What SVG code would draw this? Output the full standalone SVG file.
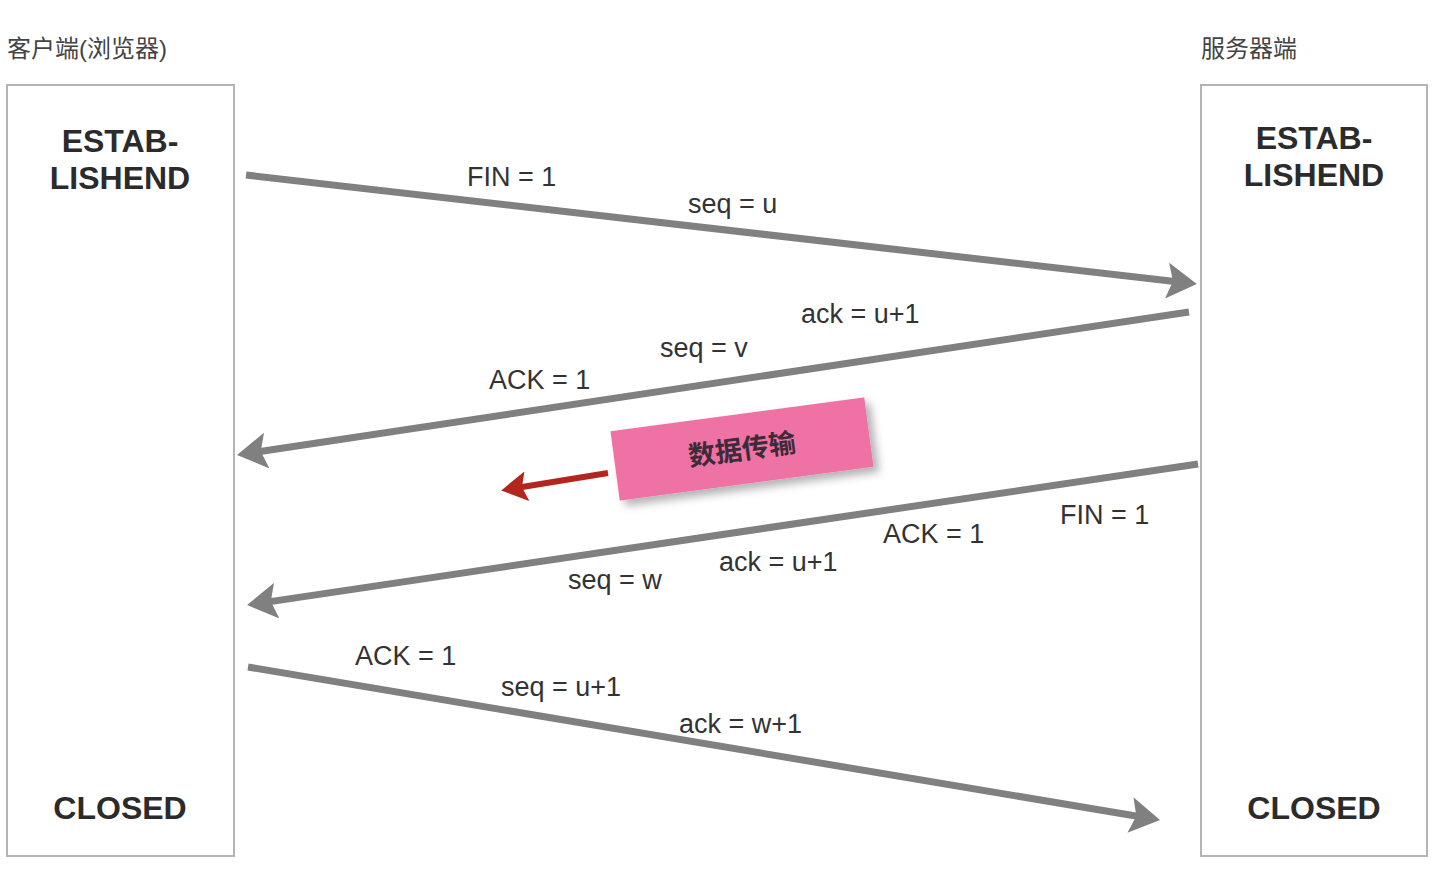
<svg xmlns="http://www.w3.org/2000/svg" width="1442" height="875" viewBox="0 0 1442 875">
<style>
.box{fill:#fff;stroke:#b4b4b4;stroke-width:2}
.state{font-family:"Liberation Sans",Arial,sans-serif;font-weight:bold;font-size:32px;fill:#2b2b2b;text-anchor:middle}
.title{font-family:"Liberation Sans","Noto Sans CJK SC",sans-serif;font-size:24px;fill:#444}
.lbl{font-family:"Liberation Sans",Arial,sans-serif;font-size:27px;fill:#333}
.conn{stroke:#808080;stroke-width:7;fill:none;marker-end:url(#ah)}
</style>
<defs>
<marker id="ah" viewBox="0 0 30 36" refX="10" refY="18" markerWidth="30" markerHeight="36" markerUnits="userSpaceOnUse" orient="auto">
<path d="M0,0 L30,18 L0,36 L6,18 z" fill="#808080"/>
</marker>
<marker id="rh" viewBox="0 0 26 30" refX="8" refY="15" markerWidth="26" markerHeight="30" markerUnits="userSpaceOnUse" orient="auto">
<path d="M0,0 L26,15 L0,30 L5,15 z" fill="#b3261e"/>
</marker>
<filter id="sh" x="-20%" y="-40%" width="140%" height="180%">
<feDropShadow dx="5" dy="6" stdDeviation="4" flood-color="#000" flood-opacity="0.3"/>
</filter>
</defs>
<rect width="1442" height="875" fill="#fff"/>
<text class="title" x="7" y="57">客户端(浏览器)</text>
<text class="title" x="1201" y="57">服务器端</text>
<g id="client">
<rect class="box" x="7" y="85" width="227" height="771"/>
<text class="state" x="120" y="152">ESTAB-</text>
<text class="state" x="120" y="189">LISHEND</text>
<text class="state" x="120" y="819">CLOSED</text>
</g>
<g id="server">
<rect class="box" x="1201" y="85" width="226" height="771"/>
<text class="state" x="1314" y="149">ESTAB-</text>
<text class="state" x="1314" y="186">LISHEND</text>
<text class="state" x="1314" y="819">CLOSED</text>
</g>
<g id="connectors">
<line class="conn" x1="246" y1="175" x2="1177" y2="281.7"/>
<line class="conn" x1="1189" y1="312" x2="256.8" y2="452"/>
<line class="conn" x1="1198" y1="464" x2="266.8" y2="602.1"/>
<line class="conn" x1="248" y1="667" x2="1140.3" y2="816.7"/>
<line x1="608" y1="473" x2="519" y2="487.5" stroke="#b3261e" stroke-width="6" marker-end="url(#rh)"/>
</g>
<g id="labels">
<text class="lbl" x="467" y="186">FIN = 1</text>
<text class="lbl" x="688" y="213">seq = u</text>
<text class="lbl" x="801" y="323">ack = u+1</text>
<text class="lbl" x="660" y="357">seq = v</text>
<text class="lbl" x="489" y="389">ACK = 1</text>
<text class="lbl" x="1060" y="524">FIN = 1</text>
<text class="lbl" x="883" y="543">ACK = 1</text>
<text class="lbl" x="719" y="571">ack = u+1</text>
<text class="lbl" x="568" y="589">seq = w</text>
<text class="lbl" x="355" y="665">ACK = 1</text>
<text class="lbl" x="501" y="696">seq = u+1</text>
<text class="lbl" x="679" y="733">ack = w+1</text>
</g>
<g id="data-transfer" transform="translate(742,449) rotate(-7.6)">
<rect x="-128" y="-35" width="256" height="70" fill="#ee72a4" filter="url(#sh)"/>
<text x="0" y="10" font-family="'Noto Sans CJK SC',sans-serif" font-size="27" font-weight="bold" fill="#3d2b3a" text-anchor="middle">数据传输</text>
</g>
</svg>
